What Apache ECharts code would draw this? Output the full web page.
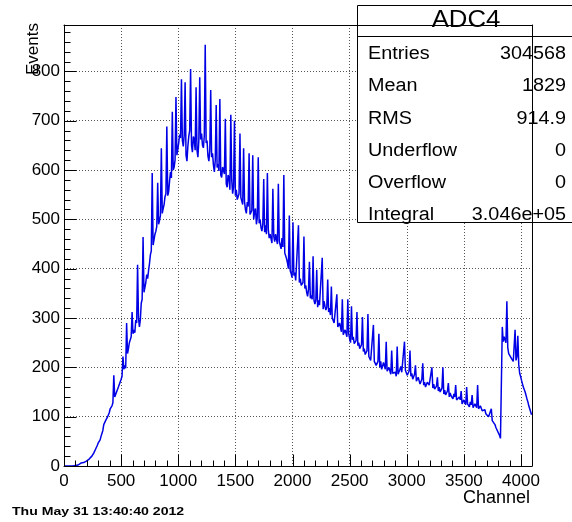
<!DOCTYPE html>
<html>
<head>
<meta charset="utf-8">
<title>ADC4</title>
<script src="https://cdn.jsdelivr.net/npm/echarts@6/dist/echarts.min.js"></script>
<style>
  html, body { margin: 0; padding: 0; background: #fff; }
  #chart { width: 572px; height: 522px; }
</style>
</head>
<body>
<div id="chart"></div>
<script>
// ADC4 spectrum: counts per channel, averaged over bins of 8 channels
const binWidth = 8;
const counts = [
  0, 0, 0, 0, 0, 0, 0, 0, 0, 0, 0, 0, 1, 2, 3, 2,
  4, 3, 6, 5, 5, 7, 9, 8, 10, 9, 12, 14, 16, 15, 20, 23,
  26, 29, 34, 38, 42, 47, 50, 53, 60, 66, 72, 84, 82, 92, 96, 99,
  102, 108, 116, 120, 122, 128, 184, 140, 138, 150, 154, 160, 164, 158, 176, 182,
  222, 196, 204, 198, 290, 228, 238, 250, 256, 262, 312, 268, 276, 270, 296, 290,
  408, 300, 282, 296, 330, 338, 464, 352, 356, 372, 388, 380, 396, 410, 428, 436,
  594, 448, 452, 470, 476, 486, 574, 490, 498, 508, 644, 512, 522, 530, 546, 552,
  688, 548, 556, 578, 596, 584, 718, 600, 606, 620, 748, 630, 642, 655, 672, 665,
  784, 660, 648, 670, 778, 630, 618, 648, 668, 680, 805, 650, 636, 668, 662, 640,
  768, 640, 626, 660, 788, 662, 674, 650, 645, 670, 854, 655, 660, 628, 618, 640,
  762, 626, 634, 610, 596, 620, 732, 605, 612, 598, 744, 590, 585, 606, 600, 592,
  704, 572, 565, 590, 584, 560, 712, 580, 552, 566, 700, 548, 560, 540, 538, 552,
  674, 544, 548, 530, 644, 536, 520, 512, 535, 526, 634, 510, 508, 518, 630, 500,
  515, 522, 490, 504, 626, 492, 500, 484, 476, 490, 582, 474, 488, 470, 594, 480,
  462, 470, 474, 452, 562, 466, 455, 470, 468, 450, 572, 456, 448, 440, 462, 444,
  590, 432, 430, 420, 412, 400, 508, 396, 390, 382, 494, 386, 392, 376, 372, 380,
  488, 372, 380, 366, 362, 372, 465, 360, 366, 352, 344, 358, 414, 340, 346, 338,
  425, 336, 328, 336, 398, 322, 336, 326, 322, 330, 422, 318, 334, 324, 316, 322,
  378, 312, 320, 306, 364, 300, 298, 290, 294, 286, 348, 282, 280, 290, 286, 272,
  338, 266, 268, 276, 274, 262, 338, 268, 258, 250, 324, 256, 262, 248, 246, 254,
  312, 244, 250, 238, 236, 246, 302, 232, 238, 226, 226, 234, 308, 222, 225, 214,
  218, 210, 286, 212, 216, 204, 205, 212, 268, 200, 212, 196, 202, 210, 206, 196,
  252, 192, 194, 200, 198, 186, 234, 188, 186, 192, 190, 182, 242, 186, 188, 196,
  202, 190, 192, 186, 252, 194, 196, 184, 186, 192, 234, 182, 188, 176, 178, 186,
  204, 172, 172, 180, 176, 166, 170, 176, 208, 164, 170, 160, 162, 170, 174, 164,
  160, 166, 200, 158, 166, 156, 156, 162, 180, 152, 160, 150, 152, 158, 200, 146,
  154, 144, 146, 152, 168, 140, 148, 142, 140, 136, 146, 140, 164, 134, 138, 132,
  140, 134, 152, 126, 128, 134, 130, 124, 160, 126, 126, 120, 130, 124, 144, 118,
  120, 126, 124, 118, 164, 116, 118, 122, 120, 112, 110, 116, 114, 106, 104, 110,
  100, 104, 98, 116, 92, 96, 90, 84, 78, 80, 70, 72, 62, 56, 60, 282,
  252, 262, 256, 250, 334, 240, 228, 232, 224, 218, 220, 212, 216, 276, 214, 222,
  264, 206, 188, 182, 174, 170, 160, 162, 150, 146, 136, 130, 122, 116, 110, 104
];

// Axis ranges and tick steps
const xRange = [0, 4096];
const yRange = [0, 894];
const xStep = 500;
const yStep = 100;
const minorDivisions = 5;

// Statistics panel
const statsTitle = 'ADC4';
const statNames = ['Entries', 'Mean', 'RMS', 'Underflow', 'Overflow', 'Integral'];
const statValues = ['304568', '1829', '914.9', '0', '0', '3.046e+05'];

const xTitle = 'Channel';
const yTitle = 'Events';
const stamp = 'Thu May 31 13:40:40 2012';

const FONT = 'Liberation Sans, Arial, Helvetica, sans-serif';
const MAJOR_LEN = 12;
const MINOR_LEN = 6;

const seriesData = counts.map((c, i) => [i * binWidth + binWidth / 2, c]);

// Main axes: line, labels and dotted grid at major ticks
function mainAxis(range, step, labelMargin, pos) {
  return {
    type: 'value', position: pos, min: range[0], max: range[1], interval: step,
    axisLine: { show: true, onZero: false, lineStyle: { color: '#000', width: 1 } },
    axisTick: { show: false }, minorTick: { show: false },
    splitLine: { show: true, lineStyle: { color: '#555', width: 1, type: [1, 2] } },
    minorSplitLine: { show: false },
    axisLabel: {
      color: '#000', fontSize: 17, fontFamily: FONT, margin: labelMargin,
      formatter: v => (v % step === 0 ? String(v) : '')
    }
  };
}

// Opposite axes only close the frame
function frameAxis(range, pos) {
  return {
    type: 'value', position: pos, min: range[0], max: range[1],
    axisLine: { show: true, onZero: false, lineStyle: { color: '#000', width: 1 } },
    axisTick: { show: false }, minorTick: { show: false },
    axisLabel: { show: false }, splitLine: { show: false }
  };
}

const chart = echarts.init(document.getElementById('chart'), null, { renderer: 'canvas' });
chart.setOption({
  animation: false,
  backgroundColor: '#fff',
  grid: { left: 64, right: 40, top: 25, bottom: 56, show: false },
  xAxis: [mainAxis(xRange, xStep, 7, 'bottom'), frameAxis(xRange, 'top')],
  yAxis: [mainAxis(yRange, yStep, 4, 'left'), frameAxis(yRange, 'right')],
  series: [{
    type: 'line',
    data: seriesData,
    showSymbol: false,
    silent: true,
    lineStyle: { color: '#0000e6', width: 1.5 },
    z: 3
  }]
});

// Inward-pointing tick marks, placed through the axes' own value-to-pixel mapping
const tickLines = [];
const crisp = v => Math.round(v) + 0.5;
const x0 = crisp(chart.convertToPixel({ xAxisIndex: 0 }, xRange[0]));
const y0 = crisp(chart.convertToPixel({ yAxisIndex: 0 }, yRange[0]));
function tickLine(x1, y1, x2, y2) {
  tickLines.push({
    type: 'line', silent: true, z: 50,
    shape: { x1: x1, y1: y1, x2: x2, y2: y2 },
    style: { stroke: '#000', lineWidth: 1 }
  });
}
const xMinor = xStep / minorDivisions;
for (let v = xRange[0]; v < xRange[1]; v += xMinor) {
  const px = crisp(chart.convertToPixel({ xAxisIndex: 0 }, v));
  const len = v % xStep === 0 ? MAJOR_LEN : MINOR_LEN;
  tickLine(px, y0, px, y0 - len);
}
const yMinor = yStep / minorDivisions;
for (let v = yRange[0]; v < yRange[1]; v += yMinor) {
  const py = crisp(chart.convertToPixel({ yAxisIndex: 0 }, v));
  const len = v % yStep === 0 ? MAJOR_LEN : MINOR_LEN;
  tickLine(x0, py, x0 + len, py);
}

const statsElements = [
  {
    type: 'rect',
    shape: { x: 357.5, y: 5.5, width: 220, height: 217 },
    style: { fill: '#fff', stroke: '#000', lineWidth: 1 }
  },
  {
    type: 'line',
    shape: { x1: 357.5, y1: 36.5, x2: 572, y2: 36.5 },
    style: { stroke: '#000', lineWidth: 1 }
  },
  {
    type: 'text', x: 466, y: 21, scaleX: 1.12,
    style: { text: statsTitle, fill: '#000', font: '23px ' + FONT, align: 'center', verticalAlign: 'middle' }
  }
];
statNames.forEach((name, i) => {
  const y = 54 + i * 32.3;
  statsElements.push({
    type: 'text', x: 368, y: y, scaleX: 1.1,
    style: { text: name, fill: '#000', font: '18px ' + FONT, align: 'left', verticalAlign: 'middle' }
  });
  statsElements.push({
    type: 'text', x: 566, y: y, scaleX: 1.1,
    style: { text: statValues[i], fill: '#000', font: '18px ' + FONT, align: 'right', verticalAlign: 'middle' }
  });
});

chart.setOption({
  graphic: [
    { type: 'group', z: 50, children: tickLines },
    { type: 'group', z: 100, children: statsElements },
    {
      type: 'text', x: 33, y: 23, rotation: Math.PI / 2, z: 100,
      style: { text: yTitle, fill: '#000', font: '17px ' + FONT, align: 'right', verticalAlign: 'middle' }
    },
    {
      type: 'text', x: 530, y: 498, z: 100,
      style: { text: xTitle, fill: '#000', font: '18px ' + FONT, align: 'right', verticalAlign: 'middle' }
    },
    {
      type: 'text', x: 12, y: 512, z: 100, scaleX: 1.28,
      style: { text: stamp, fill: '#000', font: 'bold 11px ' + FONT, align: 'left', verticalAlign: 'middle' }
    }
  ]
});
</script>
</body>
</html>
